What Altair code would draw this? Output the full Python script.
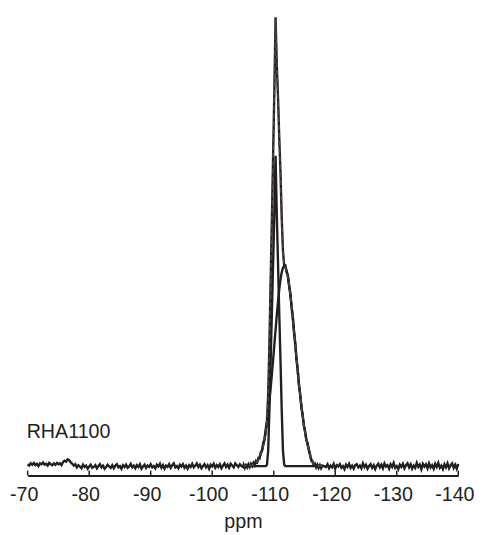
import altair as alt
import pandas as pd

INK = "#231f20"
FONT = "Liberation Sans"
SAMPLE_LABEL = "RHA1100"
AXIS_TITLE = "ppm"
TICKS = [-70, -80, -90, -100, -110, -120, -130, -140]

# experimental spectrum, baseline left part: -70.0 ... -105.0 ppm, step 0.25
exp_left = [0.004, 0.001, 0.006, 0.003, 0.007, 0.002, 0.005, 0.000, 0.006, 0.004,
            0.008, 0.003, 0.005, 0.001, 0.007, 0.004, 0.002, 0.006, 0.003, 0.007,
            0.004, 0.006, 0.002, 0.009, 0.012, 0.010, 0.015, 0.013, 0.008, 0.005,
            0.001, 0.004, -0.003, 0.002, -0.001, -0.005, 0.003, -0.002, 0.001, -0.006,
            -0.001, 0.003, -0.004, -0.002, 0.002, -0.005, 0.000, 0.004, -0.003, 0.001,
            -0.006, -0.002, 0.003, -0.001, -0.004, 0.002, -0.005, 0.001, 0.004, -0.003,
            0.000, -0.006, 0.002, -0.002, 0.003, -0.004, -0.001, 0.005, -0.003, 0.001,
            -0.005, 0.002, -0.002, 0.004, -0.006, -0.001, 0.003, -0.004, 0.001, -0.002,
            0.004, -0.003, 0.000, -0.005, 0.003, -0.001, 0.005, -0.004, 0.002, -0.006,
            0.001, -0.002, 0.004, -0.004, 0.002, 0.006, -0.003, 0.000, -0.005, 0.003,
            -0.001, 0.004, -0.004, 0.001, -0.006, 0.002, -0.002, 0.005, -0.003, 0.001,
            0.006, -0.002, 0.003, -0.005, 0.000, 0.004, -0.003, 0.002, -0.006, 0.003,
            -0.001, 0.005, -0.004, 0.002, -0.002, 0.004, -0.005, 0.001, 0.006, -0.002,
            0.003, -0.004, 0.005, 0.001, -0.003, 0.006, 0.002, -0.002, 0.004, 0.000,
            -0.002]
LEFT_START, LEFT_STEP = -70.0, 0.25

# peak region: -105.1 ... -117.9 ppm, step 0.2
PEAK_START, PEAK_STEP = -105.1, 0.2
exp_peak = [0.003, -0.004, 0.002, -0.003, 0.004, -0.002, 0.005, 0.000, 0.007, 0.002,
            0.011, 0.008, 0.018, 0.017, 0.031, 0.034, 0.052, 0.058, 0.082, 0.101,
            0.160, 0.274, 0.412, 0.549, 0.690, 0.834, 0.998, 0.893, 0.820, 0.730,
            0.654, 0.553, 0.480, 0.445, 0.446, 0.431, 0.425, 0.400, 0.385, 0.353,
            0.333, 0.297, 0.274, 0.237, 0.215, 0.180, 0.161, 0.130, 0.115, 0.089,
            0.078, 0.058, 0.051, 0.035, 0.027, 0.012, 0.011, 0.002, 0.005, -0.003,
            0.003, -0.004, 0.002, -0.005, 0.001]
fit_peak = [0.0001, 0.0001, 0.0002, 0.0004, 0.0006, 0.001, 0.0015, 0.0023, 0.0034, 0.0049,
            0.0071, 0.0101, 0.0142, 0.0195, 0.0265, 0.0354, 0.0466, 0.0602, 0.0767, 0.0993,
            0.154, 0.2695, 0.408, 0.544, 0.686, 0.830, 0.993, 0.896, 0.816, 0.733,
            0.650, 0.556, 0.476, 0.448, 0.442, 0.434, 0.421, 0.403, 0.381, 0.356,
            0.329, 0.300, 0.270, 0.240, 0.211, 0.183, 0.157, 0.133, 0.111, 0.0917,
            0.0748, 0.0602, 0.0479, 0.0377, 0.024, 0.015, 0.009, 0.005, 0.003, 0.0015,
            0.0008, 0.0004, 0.0002, 0.0001, 0.0]
narrow_peak = [0.0] * 19 + [0.003, 0.035, 0.125, 0.235, 0.34, 0.45, 0.56, 0.69,
                            0.56, 0.45, 0.34, 0.235, 0.125, 0.035, 0.003] + [0.0] * 31
broad_peak = [0.0001, 0.0001, 0.0002, 0.0004, 0.0006, 0.001, 0.0015, 0.0023, 0.0034, 0.0049,
              0.0071, 0.0101, 0.0142, 0.0195, 0.0265, 0.0354, 0.0466, 0.0602, 0.0767, 0.0963,
              0.119, 0.1445, 0.173, 0.204, 0.236, 0.270, 0.303, 0.336, 0.366, 0.393,
              0.415, 0.431, 0.441, 0.445, 0.442, 0.434, 0.421, 0.403, 0.381, 0.356,
              0.329, 0.300, 0.270, 0.240, 0.211, 0.183, 0.157, 0.133, 0.111, 0.0917,
              0.0748, 0.0602, 0.0479, 0.0377, 0.024, 0.015, 0.009, 0.005, 0.003, 0.0015,
              0.0008, 0.0004, 0.0002, 0.0001, 0.0]

# experimental spectrum, baseline right part: -118.5 ... -140.0 ppm, step 0.25
exp_right = [-0.002, 0.004, -0.005, 0.001, -0.003, 0.005, -0.006, 0.002, -0.001, 0.004,
             -0.004, 0.000, -0.007, 0.003, -0.002, 0.005, -0.004, 0.001, -0.006, 0.002,
             0.004, -0.003, 0.001, -0.005, 0.006, -0.002, 0.003, -0.006, 0.000, 0.004,
             -0.004, 0.002, -0.007, 0.001, 0.005, -0.003, 0.003, -0.005, 0.006, -0.001,
             0.002, -0.006, 0.004, -0.002, 0.007, -0.004, 0.000, -0.007, 0.003, -0.002,
             0.005, -0.005, 0.002, 0.006, -0.003, 0.004, -0.006, 0.001, -0.004, 0.007,
             -0.002, 0.003, -0.007, 0.005, -0.001, 0.004, -0.005, 0.006, -0.003, 0.002,
             -0.006, 0.005, -0.002, 0.007, -0.004, 0.001, -0.007, 0.004, -0.003, 0.006,
             -0.005, 0.002, 0.006, -0.004, 0.003, -0.006, 0.005]
RIGHT_START, RIGHT_STEP = -118.5, 0.25


def grid(start, step, n):
    return [round(start - step * i, 3) for i in range(n)]


x_left = grid(LEFT_START, LEFT_STEP, len(exp_left))
x_peak = grid(PEAK_START, PEAK_STEP, len(exp_peak))
x_right = grid(RIGHT_START, RIGHT_STEP, len(exp_right))

exp_df = pd.DataFrame({"ppm": x_left + x_peak + x_right,
                       "v": exp_left + exp_peak + exp_right})
fit_df = pd.DataFrame({"ppm": x_peak, "v": fit_peak})
comp_df = pd.concat([
    pd.DataFrame({"ppm": x_peak, "v": narrow_peak, "comp": "narrow"}),
    pd.DataFrame({"ppm": x_peak, "v": broad_peak, "comp": "broad"}),
])
tick_df = pd.DataFrame({"ppm": TICKS})
label_df = pd.DataFrame({"label": [SAMPLE_LABEL]})

x_scale = alt.Scale(domain=[-140, -70], reverse=True, nice=False, zero=False)
y_scale = alt.Scale(domain=[-0.021, 1.0], nice=False, zero=False)

x_axis = alt.Axis(values=TICKS, ticks=False, tickSize=0, grid=False,
                  domainColor=INK, domainWidth=2,
                  labelFont=FONT, labelFontSize=20, labelColor=INK,
                  labelPadding=9, labelOffset=-4, labelExpr="'' + datum.value",
                  labelFlush=False, labelOverlap=False,
                  titleFont=FONT, titleFontSize=20, titleFontWeight="normal",
                  titleColor=INK, titlePadding=8)

X = alt.X("ppm:Q", scale=x_scale, axis=x_axis, title=AXIS_TITLE)
Y = alt.Y("v:Q", scale=y_scale, axis=None)

comps = alt.Chart(comp_df).mark_line(color=INK, strokeWidth=2.4).encode(
    x=X, y=Y, detail="comp:N", order="ppm:Q")
expl = alt.Chart(exp_df).mark_line(color=INK, strokeWidth=2.4).encode(
    x=X, y=Y, order="ppm:Q")
fit = alt.Chart(fit_df).mark_line(color="#4a4647", strokeWidth=1.6, strokeDash=[5, 3]).encode(
    x=X, y=Y, order="ppm:Q")
ticks = alt.Chart(tick_df).mark_rule(color=INK, strokeWidth=1.5).encode(
    x=X, y=alt.value(467), y2=alt.value(462))
label = alt.Chart(label_df).mark_text(align="left", baseline="alphabetic", font=FONT,
                                       fontSize=20, color=INK).encode(
    x=alt.value(-1), y=alt.value(429), text="label:N")

chart = alt.layer(comps, expl, fit, ticks, label).properties(
    width=438, height=467,
    padding={"left": 20, "top": 4, "right": 16, "bottom": 56},
    autosize=alt.AutoSizeParams(type="none"),
    background="white",
).configure_view(stroke=None)

chart.save("out.html", embed_options={"renderer": "svg", "actions": False})
